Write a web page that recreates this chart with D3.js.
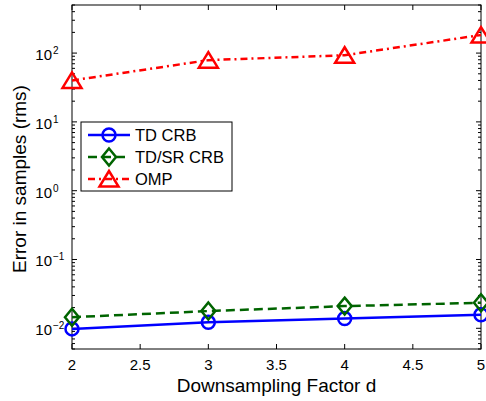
<!DOCTYPE html>
<html>
<head>
<meta charset="utf-8">
<script src="https://cdn.jsdelivr.net/npm/d3@7"></script>
<style>
  body { margin: 0; background: #fff; }
  svg text { font-family: "Liberation Sans", Arial, sans-serif; fill: #000; }
</style>
</head>
<body>
<div id="chart"></div>
<script>
// downsampling factors on the x axis
const factors = [2, 3, 4, 5];
// error values
const tdCrb = [0.0098, 0.0122, 0.0139, 0.0157];
const tdSrCrb = [0.0145, 0.0178, 0.0210, 0.0235];
const omp = [40, 79, 93, 183];
const xTicks = [2, 2.5, 3, 3.5, 4, 4.5, 5];
const yDecades = [-2, -1, 0, 1, 2];
const seriesNames = ["TD CRB", "TD/SR CRB", "OMP"];

const width = 486, height = 401;
const margin = { left: 72, right: 5, top: 5, bottom: 52 };

const svg = d3.select("#chart").append("svg")
  .attr("width", width)
  .attr("height", height);

let x = d3.scaleLinear()
  .domain([2, 5])
  .range([margin.left, width - margin.right]);

let y = d3.scaleLog()
  .domain([0.005, 500])
  .range([height - margin.bottom, margin.top]);

const x0 = x.range()[0], x1 = x.range()[1];
const yb = y.range()[0], yt = y.range()[1];

// ticks, inward on all four sides
let ticks = svg.append("g").attr("stroke", "#000").attr("stroke-width", 1);
xTicks.forEach(function (t) {
  ticks.append("line").attr("x1", x(t)).attr("x2", x(t)).attr("y1", yb).attr("y2", yb - 5);
  ticks.append("line").attr("x1", x(t)).attr("x2", x(t)).attr("y1", yt).attr("y2", yt + 5);
});
for (let e = -3; e <= 2; e++) {
  for (let m = 1; m <= 9; m++) {
    let v = m * Math.pow(10, e);
    if (v < 0.005 || v > 500) continue;
    let len = m === 1 ? 5 : 3;
    ticks.append("line").attr("x1", x0).attr("x2", x0 + len).attr("y1", y(v)).attr("y2", y(v));
    ticks.append("line").attr("x1", x1).attr("x2", x1 - len).attr("y1", y(v)).attr("y2", y(v));
  }
}

// frame
svg.append("rect")
  .attr("x", x0).attr("y", yt)
  .attr("width", x1 - x0).attr("height", yb - yt)
  .attr("fill", "none").attr("stroke", "#000").attr("stroke-width", 1);

// tick labels
svg.append("g").selectAll("text")
  .data(xTicks)
  .enter().append("text")
  .attr("x", function (d) { return x(d); })
  .attr("y", yb + 21)
  .attr("text-anchor", "middle")
  .style("font-size", "15px")
  .text(function (d) { return d; });

let yl = svg.append("g").selectAll("text")
  .data(yDecades)
  .enter().append("text")
  .attr("x", 52)
  .attr("y", function (d) { return y(Math.pow(10, d)) + 7; })
  .attr("text-anchor", "end")
  .style("font-size", "15px")
  .text("10");
svg.append("g").selectAll("text")
  .data(yDecades)
  .enter().append("text")
  .attr("x", 53)
  .attr("y", function (d) { return y(Math.pow(10, d)) + 1; })
  .style("font-size", "10px")
  .text(function (d) { return d < 0 ? "\u2212" + (-d) : d; });

// axis labels
svg.append("text")
  .attr("x", (x0 + x1) / 2)
  .attr("y", 392)
  .attr("text-anchor", "middle")
  .style("font-size", "19px")
  .text("Downsampling Factor d");

svg.append("text")
  .attr("transform", "translate(26," + ((yb + yt) / 2 + 2) + ") rotate(-90)")
  .attr("text-anchor", "middle")
  .style("font-size", "19px")
  .text("Error in samples (rms)");

const series = [
  { name: seriesNames[0], values: tdCrb, color: "#0000ff", dash: null, marker: "circle" },
  { name: seriesNames[1], values: tdSrCrb, color: "#006400", dash: "9,5", marker: "diamond" },
  { name: seriesNames[2], values: omp, color: "#ff0000", dash: "7,4,2,4", marker: "triangle" }
];

function drawMarker(g, type, cx, cy, color) {
  if (type === "circle") {
    g.append("circle").attr("cx", cx).attr("cy", cy).attr("r", 6.5)
      .attr("fill", "none").attr("stroke", color).attr("stroke-width", 2.5);
  } else if (type === "diamond") {
    g.append("path")
      .attr("d", "M" + cx + "," + (cy - 8.5) + "L" + (cx + 7) + "," + cy + "L" + cx + "," + (cy + 8.5) + "L" + (cx - 7) + "," + cy + "Z")
      .attr("fill", "none").attr("stroke", color).attr("stroke-width", 2.5);
  } else {
    g.append("path")
      .attr("d", "M" + cx + "," + (cy - 8) + "L" + (cx + 9.5) + "," + (cy + 7.5) + "L" + (cx - 9.5) + "," + (cy + 7.5) + "Z")
      .attr("fill", "none").attr("stroke", color).attr("stroke-width", 2.5);
  }
}

let line = d3.line()
  .x(function (d) { return x(d[0]); })
  .y(function (d) { return y(d[1]); });

series.forEach(function (s) {
  let pts = factors.map(function (f, i) { return [f, s.values[i]]; });
  let g = svg.append("g");
  g.append("path")
    .attr("d", line(pts))
    .attr("fill", "none")
    .attr("stroke", s.color)
    .attr("stroke-width", 2.5)
    .attr("stroke-dasharray", s.dash);
  pts.forEach(function (p) { drawMarker(g, s.marker, x(p[0]), y(p[1]), s.color); });
});

// legend
let legend = svg.append("g");
legend.append("rect")
  .attr("x", 81).attr("y", 122).attr("width", 151).attr("height", 69)
  .attr("fill", "#fff").attr("stroke", "#000").attr("stroke-width", 1);
series.forEach(function (s, i) {
  let ly = 135 + i * 22;
  legend.append("line")
    .attr("x1", 88).attr("x2", 130).attr("y1", ly).attr("y2", ly)
    .attr("stroke", s.color).attr("stroke-width", 2.5)
    .attr("stroke-dasharray", s.dash);
  drawMarker(legend, s.marker, 109, ly, s.color);
  legend.append("text")
    .attr("x", 135).attr("y", ly + 6)
    .style("font-size", "16.5px")
    .text(s.name);
});
</script>
</body>
</html>
